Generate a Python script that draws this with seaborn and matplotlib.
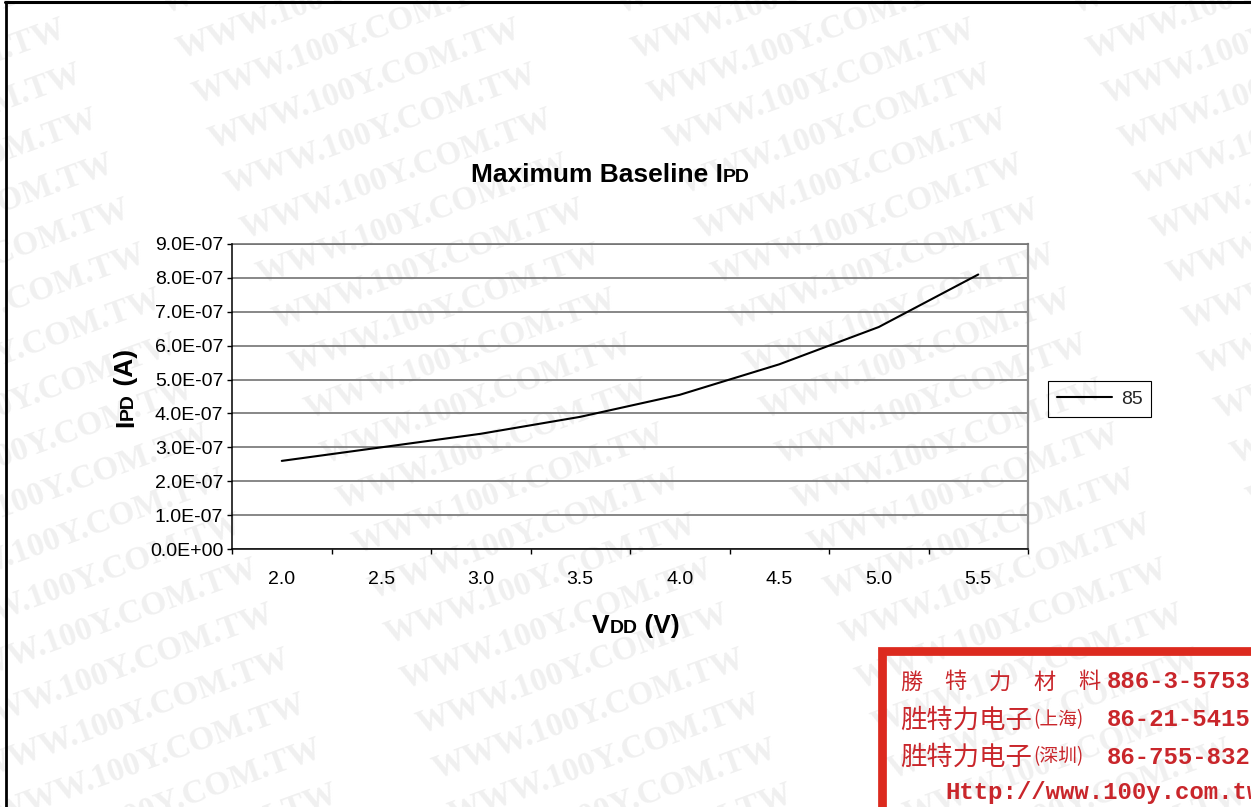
import matplotlib
matplotlib.use("Agg")
import matplotlib.pyplot as plt
import matplotlib.ticker as mticker
import matplotlib.transforms as mtransforms
from matplotlib.lines import Line2D
from matplotlib.patches import Rectangle
import numpy as np
import pandas as pd
import seaborn as sns

# ---- data -------------------------------------------------------------
vdd_labels = ["2.0", "2.5", "3.0", "3.5", "4.0", "4.5", "5.0", "5.5"]
ipd_85 = [2.60e-7, 3.00e-7, 3.40e-7, 3.90e-7, 4.55e-7, 5.45e-7, 6.55e-7, 8.10e-7]
series_name = "85"
y_ticks = [0.0, 1e-7, 2e-7, 3e-7, 4e-7, 5e-7, 6e-7, 7e-7, 8e-7, 9e-7]

title_runs = [("Maximum Baseline I", 19), ("PD", 14)]
ylabel_runs = [("I", 19), ("PD", 14), (" (A)", 19)]
xlabel_runs = [("V", 19), ("DD", 14), (" (V)", 19)]

watermark = "WWW.100Y.COM.TW"
contact_line1 = ["勝", "特", "力", "材", "料"]
contact_num = ["886-3-5753", "86-21-5415", "86-755-832"]
contact_name = "胜特力电子"
contact_city = ["(上海)", "(深圳)"]
contact_url = "Http://www.100y.com.tw"

# ---- figure ----------------------------------------------------------
W, H = 1251, 807
sns.set_theme(style="white")
plt.rcParams["font.family"] = ["Liberation Sans", "DejaVu Sans"]

fig = plt.figure(figsize=(W / 100, H / 100), dpi=100)
fig.patch.set_facecolor("white")
px = mtransforms.IdentityTransform()

# background watermark, drawn beneath the axes
for m in range(-3, 3):
    for k in range(-4, 19):
        cx = 820 + 455 * m + 16 * k
        cy = 84 + 45 * k
        if -120 < cx < W + 200 and -60 < cy < H + 60:
            fig.text(cx, H - cy, watermark, transform=px, rotation=20,
                     rotation_mode="anchor", ha="center", va="center",
                     fontsize=24, fontweight="bold", family="Liberation Serif",
                     color="#f0f0f0", zorder=-5)

ax = fig.add_axes([232 / W, 1 - 549 / H, (1028 - 232) / W, (549 - 244) / H])
ax.set_facecolor("none")

df = pd.DataFrame({"vdd": vdd_labels, "ipd": ipd_85})
sns.lineplot(data=df, x="vdd", y="ipd", ax=ax, color="black", lw=1.5,
             label=series_name, sort=False, zorder=5)

ax.set_xlim(-0.5, len(vdd_labels) - 0.5)
ax.set_ylim(0, 9e-7)
ax.set_xlabel("")
ax.set_ylabel("")

ax.xaxis.set_major_locator(mticker.FixedLocator(np.arange(len(vdd_labels))))
ax.xaxis.set_major_formatter(mticker.FixedFormatter(vdd_labels))
ax.xaxis.set_minor_locator(mticker.FixedLocator(np.arange(len(vdd_labels) + 1) - 0.5))
ax.tick_params(axis="x", which="major", length=0, pad=16, labelsize=14, colors="black")
ax.tick_params(axis="x", which="minor", length=3.8, width=1, direction="out",
               color="black", bottom=True)

ax.yaxis.set_major_locator(mticker.FixedLocator(y_ticks))
ax.yaxis.set_major_formatter(mticker.FuncFormatter(lambda v, p: "%.1E" % v))
ax.tick_params(axis="y", which="major", length=3.8, width=1, direction="out",
               pad=2.5, labelsize=14, colors="black", left=True)

ax.yaxis.grid(True, color="#737373", lw=1.2)
ax.xaxis.grid(False)
ax.set_axisbelow(True)
for side in ("left", "bottom"):
    ax.spines[side].set_color("black")
    ax.spines[side].set_linewidth(1.1)
    ax.spines[side].set_zorder(6)
ax.spines["top"].set_color("#737373")
ax.spines["top"].set_linewidth(1.2)
ax.spines["right"].set_color("#8c8c8c")
ax.spines["right"].set_linewidth(1.6)

leg = ax.legend(loc="center left", bbox_to_anchor=(1048 / W, 1 - 399 / H),
                bbox_transform=fig.transFigure, frameon=True, fancybox=False,
                edgecolor="black", facecolor="none", framealpha=1,
                fontsize=14, handlelength=2.85, handletextpad=0.45,
                borderpad=0.45, borderaxespad=0)
leg.get_frame().set_linewidth(0.8)
for h in leg.get_lines():
    h.set_linewidth(1.5)

# ---- text runs with reduced-size letters -----------------------------
renderer = fig.canvas.get_renderer()


def place_runs(cx, cy, runs, rotation=0):
    arts = [fig.text(0, 0, s, transform=px, fontsize=fs, fontweight="bold",
                     rotation=rotation, rotation_mode="anchor",
                     ha="left", va="baseline", color="black")
            for s, fs in runs]
    lengths = []
    for a in arts:
        bb = a.get_window_extent(renderer)
        lengths.append(bb.width if rotation == 0 else bb.height)
    total = sum(lengths)
    pos = -total / 2
    for a, ln in zip(arts, lengths):
        if rotation == 0:
            a.set_position((cx + pos, cy))
        else:
            a.set_position((cx, cy + pos))
        pos += ln


place_runs(610, H - 182, title_runs)
place_runs(133, H - 388, ylabel_runs, rotation=90)
place_runs(636, H - 633, xlabel_runs)

# ---- contact box -------------------------------------------------------
red_edge = "#dc2a1e"
red_text = "#c9262b"
fig.add_artist(Rectangle((882, -40), 600, H - 651 + 40, transform=px,
                         fill=False, edgecolor=red_edge, lw=6.3, zorder=3))

cjk = ["Noto Sans CJK TC", "DejaVu Sans"]
mono = "Liberation Mono"
for i, ch in enumerate(contact_line1):
    fig.text(900 + 44.5 * i, H - 682, ch, transform=px, fontsize=16,
             family=cjk, color=red_text, ha="left", va="center", zorder=4)
rows_y = [682, 720, 757]
for j, num in enumerate(contact_num):
    fig.text(1107, H - rows_y[j], num, transform=px, fontsize=17.3,
             family=mono, fontweight="bold", color=red_text,
             ha="left", va="center", zorder=4)
for j, city in enumerate(contact_city):
    y = H - rows_y[j + 1]
    fig.text(900, y, contact_name, transform=px, fontsize=19, family=cjk,
             color=red_text, ha="left", va="center", zorder=4)
    fig.text(1033, y, city, transform=px, fontsize=13.5, family=cjk,
             color=red_text, ha="left", va="center", zorder=4)
fig.text(945, H - 793, contact_url, transform=px, fontsize=17.3, family=mono,
         fontweight="bold", color=red_text, ha="left", va="center", zorder=4)

# ---- page frame ----------------------------------------------------------
fig.add_artist(Line2D([6, 6], [-5, H - 2], transform=px, color="black", lw=2))
fig.add_artist(Line2D([5, W + 5], [H - 2, H - 2], transform=px, color="black", lw=2.2))

fig.savefig("out.png", dpi=100)
